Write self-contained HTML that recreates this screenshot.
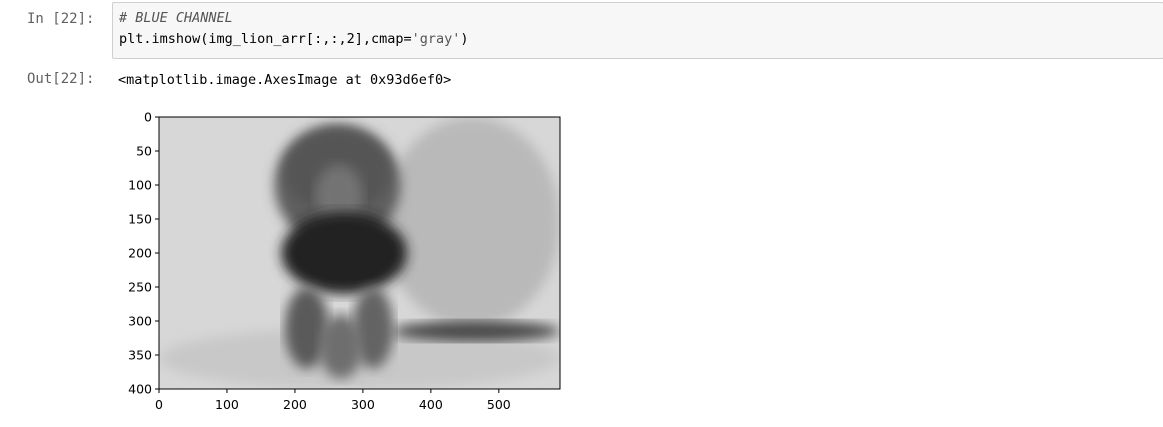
<!DOCTYPE html>
<html><head><meta charset="utf-8"><style>
body{margin:0;width:1163px;height:427px;background:#fff;overflow:hidden;font-family:"DejaVu Sans Mono","Liberation Mono",monospace;position:relative}
.p{position:absolute;font-size:14px;color:#616161}
.code{position:absolute;left:112px;top:2px;width:1050px;height:55px;background:#f7f7f7;border:1px solid #cfcfcf;border-radius:2px}
.t{position:absolute;font-size:13.5px;white-space:pre;color:#000}
</style></head><body>
<div class="p" style="left:27px;top:11px">In [22]:</div>
<div class="code">
<div class="t" style="left:6px;top:7px;color:#555;font-style:italic"># BLUE CHANNEL</div>
<div class="t" style="left:6px;top:28px">plt.imshow(img_lion_arr[:,:,2],cmap=<span style="color:#555">'gray'</span>)</div>
</div>
<div class="p" style="left:27px;top:71px">Out[22]:</div>
<div class="t" style="left:118px;top:72px">&lt;matplotlib.image.AxesImage at 0x93d6ef0&gt;</div>
<svg id="chart" style="position:absolute;left:0;top:0" width="1163" height="427">
<defs><filter id="bl"><feGaussianBlur stdDeviation="6"/></filter></defs>
</svg>
<script>
const xTicks=[0,100,200,300,400,500];
const yTicks=[0,50,100,150,200,250,300,350,400];
const imgW=590, imgH=400;
// shapes in data coords: [x0,y0,x1,y1,gray]
const blobs=[
 [0,0,590,400,215],[0,310,590,400,200],[330,0,590,310,185],
 [170,10,355,190,95],[185,20,340,140,85],[230,70,300,160,115],
 [180,140,365,260,35],[185,250,250,370,90],[285,250,345,370,100],
 [235,290,300,385,110],[345,300,590,330,70]
];
const svg=document.getElementById('chart');
const L=159,T=117,R=560,B=389;
const sx=v=>L+v*(R-L)/imgW, sy=v=>T+v*(B-T)/imgH;
const NS='http://www.w3.org/2000/svg';
function mk(tag,a){const e=document.createElementNS(NS,tag);for(const k in a)e.setAttribute(k,a[k]);svg.appendChild(e);return e;}
const cp=mk('clipPath',{id:'cl'});
const cr=document.createElementNS(NS,'rect');cr.setAttribute('x',L);cr.setAttribute('y',T);cr.setAttribute('width',R-L);cr.setAttribute('height',B-T);cp.appendChild(cr);
const g=mk('g',{'clip-path':'url(#cl)'});
blobs.forEach((b,i)=>{
 const full=i===0;
 const e=document.createElementNS(NS,full?'rect':'ellipse');
 const a=full?{x:sx(b[0]),y:sy(b[1]),width:sx(b[2])-sx(b[0]),height:sy(b[3])-sy(b[1])}:{cx:(sx(b[0])+sx(b[2]))/2,cy:(sy(b[1])+sy(b[3]))/2,rx:(sx(b[2])-sx(b[0]))/2,ry:(sy(b[3])-sy(b[1]))/2};
 for(const k in a)e.setAttribute(k,a[k]);
 if(!full)e.setAttribute('filter','url(#bl)');
 e.setAttribute('fill',`rgb(${b[4]},${b[4]},${b[4]})`);
 
 
 g.appendChild(e);
});
const fr=mk('rect',{x:L,y:T,width:R-L,height:B-T,fill:'none',stroke:'#000','stroke-width':1});


xTicks.forEach(v=>{
 const x=sx(v);
 mk('line',{x1:x,x2:x,y1:B,y2:B+4,stroke:'#000'});
 const t=mk('text',{x:x,y:B+20,'text-anchor':'middle','font-size':'12.5','font-family':'DejaVu Sans, sans-serif'});
 t.textContent=v;
 
 
});
yTicks.forEach(v=>{
 const y=sy(v);
 mk('line',{x1:L-4,x2:L,y1:y,y2:y,stroke:'#000'});
 const t=mk('text',{x:L-7,y:y+4.5,'text-anchor':'end','font-size':'12.5','font-family':'DejaVu Sans, sans-serif'});
 t.textContent=v;
 
 
});
</script>
</body></html>
